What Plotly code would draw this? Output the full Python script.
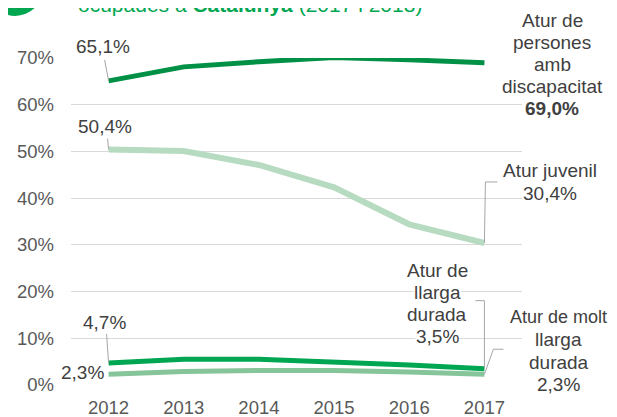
import plotly.graph_objects as go

years = [2012, 2013, 2014, 2015, 2016, 2017]
discapacitat = [65.1, 68.1, 69.2, 70.1, 69.6, 69.0]
juvenil = [50.4, 50.1, 47.1, 42.3, 34.4, 30.4]
llarga = [4.7, 5.5, 5.5, 5.0, 4.3, 3.5]
molt_llarga = [2.3, 2.9, 3.1, 3.1, 2.8, 2.3]

y_ticks = [0, 10, 20, 30, 40, 50, 60, 70]
y_ticktext = [f"{v}%" for v in y_ticks]

C_DISC = "#009046"
C_JUV = "#b6dbc1"
C_LL = "#00a651"
C_MLL = "#86c49a"
TXT = "#404040"
TICK = "#595959"
FONT = "Liberation Sans, Arial, sans-serif"
LS = 19


def pct(v):
    return f"{v:.1f}".replace(".", ",") + "%"


fig = go.Figure()
series = [
    (juvenil, C_JUV, 6),
    (discapacitat, C_DISC, 5),
    (molt_llarga, C_MLL, 5),
    (llarga, C_LL, 5),
]
for vals, col, w in series:
    fig.add_trace(go.Scatter(x=years, y=vals, mode="lines",
                             line=dict(color=col, width=w),
                             cliponaxis=False, hoverinfo="skip", showlegend=False))

ann = []
shapes = []
LEAD = dict(color="#a6a6a6", width=1)


def label(x, y, text, xs, ys, xanchor="center", bg=None, size=LS):
    d = dict(x=x, y=y, xref="x", yref="y", text=text, showarrow=False,
             xshift=xs, yshift=ys, xanchor=xanchor, yanchor="middle",
             align="center", borderpad=0,
             font=dict(family=FONT, size=size, color=TXT))
    if bg:
        d["bgcolor"] = bg
    ann.append(d)


def block(x, y, lines, xs, ys_first, step=22.2, bg=None, sizes=None):
    for i, t in enumerate(lines):
        sz = sizes[i] if sizes else LS
        label(x, y, t, xs, ys_first - i * step, bg=bg, size=sz)


def leader(x, y, path):
    shapes.append(dict(type="path", xref="x", yref="y", xsizemode="pixel",
                       ysizemode="pixel", xanchor=x, yanchor=y, path=path,
                       line=LEAD, layer="above"))


# start-of-series labels
label(years[0], discapacitat[0], pct(discapacitat[0]), -5.6, 34)
leader(years[0], discapacitat[0], "M0,0 L-4,21")
label(years[0], juvenil[0], pct(juvenil[0]), -3.6, 22.6)
leader(years[0], juvenil[0], "M0,0 L-1,11")
label(years[0], llarga[0], pct(llarga[0]), -3.6, 41)
leader(years[0], llarga[0], "M0,0 L-2,29")
label(years[0], molt_llarga[0], pct(molt_llarga[0]), -3.6, 2, xanchor="right")

# end-of-series labels
block(years[-1], discapacitat[-1],
      ["Atur de", "persones", "amb", "discapacitat", "<b>" + pct(discapacitat[-1]) + "</b>"],
      68, 42.2, step=21.9)
block(years[-1], juvenil[-1], ["Atur juvenil", pct(juvenil[-1])], 66, 72.2, step=22.5)
leader(years[-1], juvenil[-1], "M0,0 L1,61 L13,61")
block(years[-1], llarga[-1], ["Atur de", "llarga", "durada", pct(llarga[-1])],
      -47, 98.6, step=22.2, bg="white")
leader(years[-1], llarga[-1], "M0,0 L0,68 L-9,68")
block(years[-1], molt_llarga[-1], ["Atur de molt", "llarga", "durada", pct(molt_llarga[-1])],
      74.5, 56.8, step=22.5, sizes=[18, LS, LS, LS])
leader(years[-1], molt_llarga[-1], "M0,0 L9,25 L19,25")

# clipped title and icon at the top edge
ann.append(dict(x=5 / 451, y=1.1224, xref="paper", yref="paper", xanchor="left",
                yanchor="bottom", showarrow=False,
                text="ocupades a <b>Catalunya</b> (2017 i 2018)",
                font=dict(family=FONT, size=21, color="#00a650")))
shapes.append(dict(type="circle", xref="paper", yref="paper",
                   x0=-84 / 451, x1=-28 / 451, y0=369 / 327, y1=425 / 327,
                   fillcolor="#00a650", line=dict(width=0), layer="above"))

# page body has an 8px margin, so the figure is drawn 8px in from the corner
fig.update_layout(
    width=609, height=409,
    margin=dict(l=63, r=95, t=50, b=32, autoexpand=False),
    paper_bgcolor="white", plot_bgcolor="white",
    font=dict(family=FONT, size=18, color=TICK),
    xaxis=dict(range=[2011.5, 2017.5], tickvals=years, ticktext=[str(y) for y in years],
               showgrid=False, zeroline=False, showline=False, ticks="",
               automargin=False, ticklabelstandoff=9,
               tickfont=dict(size=18.5, color=TICK)),
    yaxis=dict(range=[0, 70], tickvals=y_ticks, ticktext=y_ticktext,
               showgrid=True, gridcolor="#d9d9d9", gridwidth=1, zeroline=False,
               showline=False, ticks="", automargin=False, ticklabelstandoff=16,
               tickfont=dict(size=18.5, color=TICK)),
    annotations=ann, shapes=shapes,
)

fig.write_html("out.html")
